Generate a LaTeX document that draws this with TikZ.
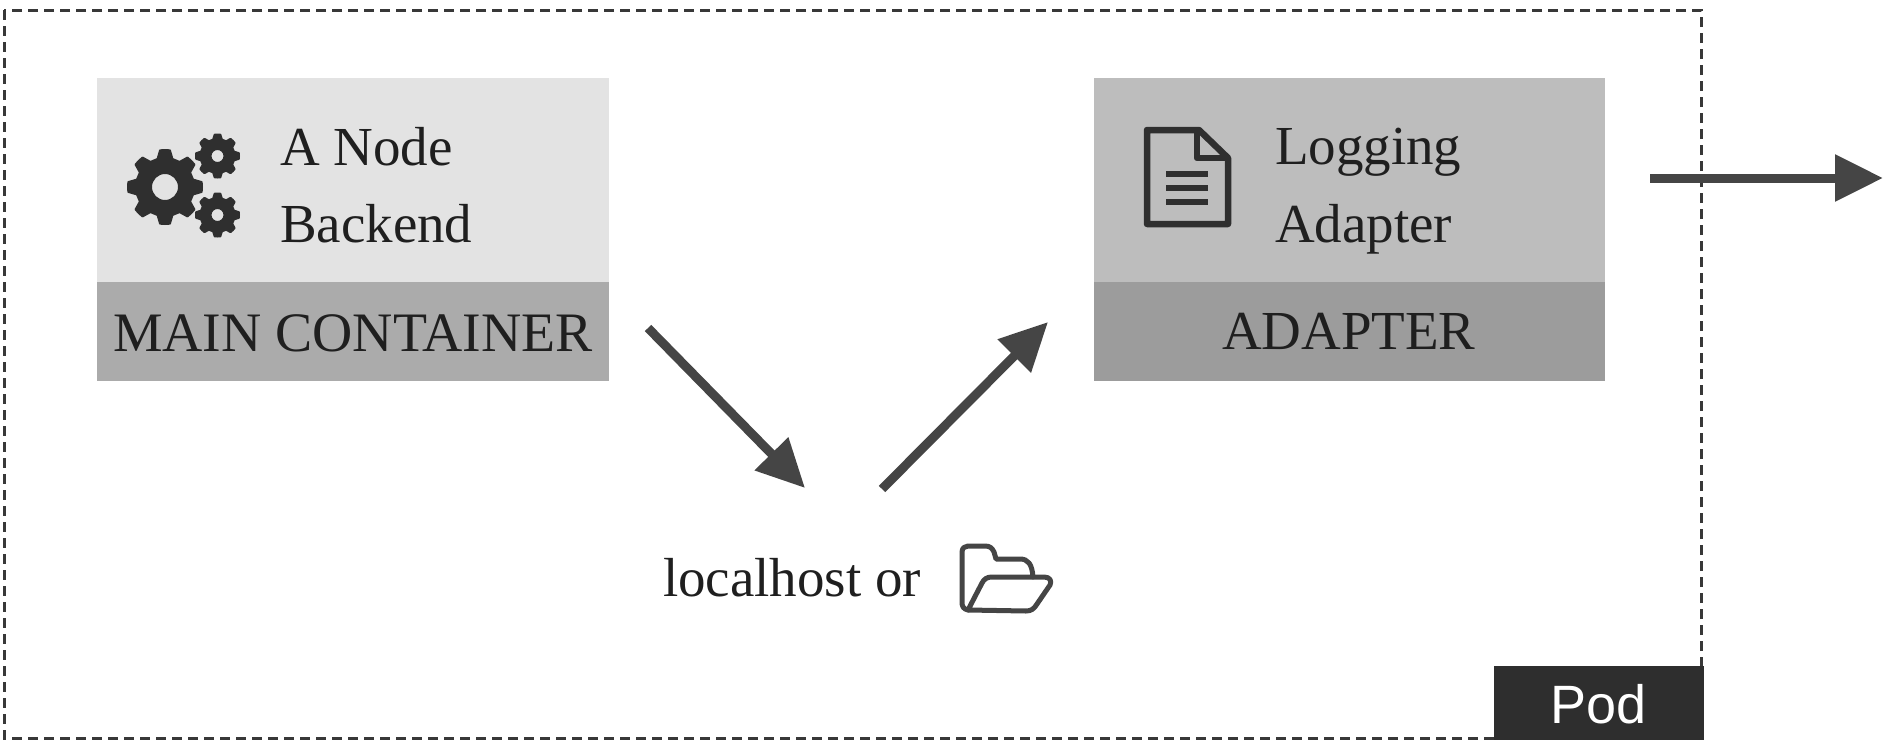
\documentclass[tikz,border=0pt]{standalone}
\usepackage{fontspec}
\setmainfont{Liberation Serif}
\newfontfamily\podfont{Liberation Sans}
\usetikzlibrary{arrows.meta}
\definecolor{inkdark}{HTML}{2F2F2F}
\definecolor{arrowgray}{HTML}{454545}
\newcommand{\gearshape}[6]{% cx cy Rout Rroot hole teeth
  \fill[inkdark,even odd rule,line join=round,draw=inkdark,line width=2pt]
    (#1,#2) ++(0:#3)
    \foreach \k in {1,...,#6}{
      -- ({#1+#3*cos((\k-1)*360/#6+360/#6*0.17)},{#2+#3*sin((\k-1)*360/#6+360/#6*0.17)})
      -- ({#1+#4*cos((\k-1)*360/#6+360/#6*0.33)},{#2+#4*sin((\k-1)*360/#6+360/#6*0.33)})
      -- ({#1+#4*cos((\k-1)*360/#6+360/#6*0.67)},{#2+#4*sin((\k-1)*360/#6+360/#6*0.67)})
      -- ({#1+#3*cos((\k-1)*360/#6+360/#6*0.83)},{#2+#3*sin((\k-1)*360/#6+360/#6*0.83)})
      -- ({#1+#3*cos(\k*360/#6)},{#2+#3*sin(\k*360/#6)})
    } -- cycle
    (#1,#2) circle (#5);
}
\tikzset{
  x=1pt,y=-1pt,
  boxpart/.style={draw=none,inner sep=0pt,outer sep=0pt,anchor=north west},
  label/.style={inner sep=0pt,outer sep=0pt,anchor=base west,text=black!88,font=\fontsize{55}{60}\selectfont},
  flow/.style={draw=arrowgray,line width=9pt,-{Triangle[length=48pt,width=45pt]}},
  iconline/.style={draw=inkdark,line width=6.5pt,line join=round},
  folderline/.style={draw=arrowgray,line width=5pt,line join=round,line cap=round}
}
\begin{document}
\begin{tikzpicture}
\useasboundingbox (0,0) rectangle (1894,744);
% Pod frame
\draw[draw=black!78,line width=3pt,dash pattern=on 10pt off 6pt] (4,10) rectangle (1701,738);
\node[boxpart,fill=black!82,minimum width=210pt,minimum height=74pt] (podtag) at (1494,666) {};
\node[inner sep=0pt,anchor=base west,text=white,font=\podfont\fontsize{54}{60}\selectfont] (podtext) at (1550,723) {Pod};
% Main container
\node[boxpart,fill=black!11,minimum width=512pt,minimum height=204pt] (maintop) at (97,78) {};
\node[boxpart,fill=black!33,minimum width=512pt,minimum height=99pt] (mainbot) at (97,282) {};
\gearshape{165}{187}{37}{29}{14}{8}
\gearshape{217.5}{156}{21.5}{17}{7}{8}
\gearshape{217.5}{215}{21.5}{17}{7}{8}
\node[label] (anode) at (280,165) {A Node};
\node[label] (backend) at (280,242) {Backend};
\node[label,font=\fontsize{55.7}{60}\selectfont] (maintext) at (113,351) {MAIN CONTAINER};
% Adapter
\node[boxpart,fill=black!26,minimum width=511pt,minimum height=204pt] (adtop) at (1094,78) {};
\node[boxpart,fill=black!39,minimum width=511pt,minimum height=99pt] (adbot) at (1094,282) {};
\draw[iconline] (1147,130) -- (1199,130) -- (1228,158) -- (1228,224) -- (1147,224) -- cycle;
\draw[iconline] (1197,130) -- (1197,158) -- (1228,158);
\draw[draw=inkdark,line width=6pt] (1166,174) -- (1208,174) (1166,188) -- (1208,188) (1166,202) -- (1208,202);
\node[label] (logging) at (1275,164) {Logging};
\node[label] (adapter) at (1275,242) {Adapter};
\node[label] (adtext) at (1222,349) {ADAPTER};
% Centre
\node[label] (local) at (663,596) {localhost or};
\draw[folderline] (968,610) .. controls (963,609) and (962,606) .. (962,602) -- (962,552)
  .. controls (962,548) and (965,546) .. (968,546) -- (985,546)
  .. controls (990,546) and (992,548) .. (994,552) -- (996,559) -- (1020,559)
  .. controls (1028,559) and (1032,564) .. (1033,577);
\draw[folderline] (968,610) -- (982,583) .. controls (984,579) and (987,577) .. (992,577) -- (1044,577)
  .. controls (1050,577) and (1052,581) .. (1050,585) -- (1037,604)
  .. controls (1034,609) and (1031,611) .. (1026,611) -- cycle;
% Arrows
\coordinate (a1s) at (648,328); \coordinate (a1e) at (805,488);
\coordinate (a2s) at (882,489); \coordinate (a2e) at (1048,322);
\coordinate (a3s) at (1650,178); \coordinate (a3e) at (1883,178);
\draw[flow] (a1s) -- (a1e);
\draw[flow] (a2s) -- (a2e);
\draw[flow] (a3s) -- (a3e);
\end{tikzpicture}
\end{document}
